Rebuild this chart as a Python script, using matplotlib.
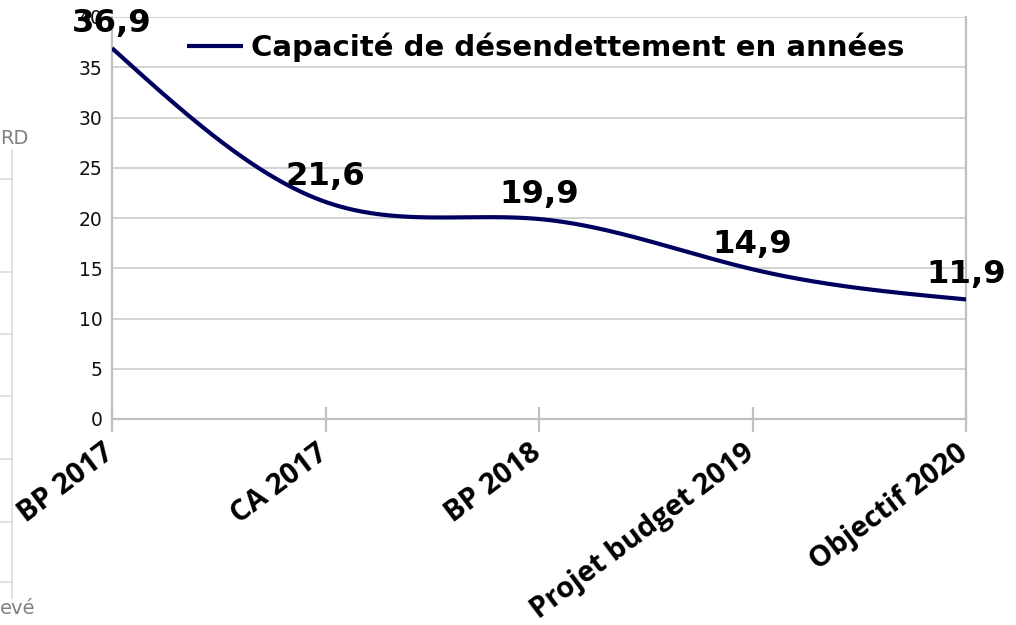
import numpy as np
import matplotlib
matplotlib.use("Agg")
import matplotlib.pyplot as plt
from matplotlib.lines import Line2D
from matplotlib.transforms import ScaledTranslation

categories = ["BP 2017", "CA 2017", "BP 2018", "Projet budget 2019", "Objectif 2020"]
values = [36.9, 21.6, 19.9, 14.9, 11.9]
series_name = "Capacité de désendettement en années"
y_ticks = [0, 5, 10, 15, 20, 25, 30, 35, 40]


def natural_spline(x, y, n=400):
    x = np.asarray(x, float)
    y = np.asarray(y, float)
    m = len(x)
    h = np.diff(x)
    A = np.zeros((m, m))
    r = np.zeros(m)
    A[0, 0] = 1
    A[-1, -1] = 1
    for i in range(1, m - 1):
        A[i, i - 1] = h[i - 1]
        A[i, i] = 2 * (h[i - 1] + h[i])
        A[i, i + 1] = h[i]
        r[i] = 3 * ((y[i + 1] - y[i]) / h[i] - (y[i] - y[i - 1]) / h[i - 1])
    c = np.linalg.solve(A, r)
    b = np.zeros(m - 1)
    d = np.zeros(m - 1)
    for i in range(m - 1):
        b[i] = (y[i + 1] - y[i]) / h[i] - h[i] * (2 * c[i] + c[i + 1]) / 3
        d[i] = (c[i + 1] - c[i]) / (3 * h[i])
    xs = np.linspace(x[0], x[-1], n)
    idx = np.clip(np.searchsorted(x, xs, side="right") - 1, 0, m - 2)
    dx = xs - x[idx]
    ys = y[idx] + b[idx] * dx + c[idx] * dx ** 2 + d[idx] * dx ** 3
    return xs, ys


W, H = 1016, 625
fig = plt.figure(figsize=(W / 100, H / 100), dpi=100)
fig.patch.set_facecolor("white")

L, R, T, B = 112, 966, 17, 419
ax = fig.add_axes([L / W, 1 - B / H, (R - L) / W, (B - T) / H])

xpos = np.arange(len(categories))
xs, ys = natural_spline(xpos, values)
navy = "#00005e"
ax.plot(xs, ys, color=navy, lw=3.0, solid_capstyle="butt", label=series_name, zorder=3)

ax.set_xlim(0, len(categories) - 1)
ax.set_ylim(0, 40)
ax.set_yticks(y_ticks)
ax.set_yticklabels([str(t) for t in y_ticks], fontsize=13.5, color="#111111",
                   family="DejaVu Sans")
ax.yaxis.grid(True, color="#d0d0d0", lw=1.3)
ax.set_axisbelow(True)
ax.tick_params(axis="y", length=0, pad=7)

ax.set_xticks(xpos)
ax.set_xticklabels(categories, rotation=37, ha="right", va="top",
                   rotation_mode="anchor", fontsize=21, fontweight="bold",
                   family="Open Sans", color="black")
ax.tick_params(axis="x", direction="inout", length=18, width=1.6,
               color="#c0c0c0", pad=5)
shift = ScaledTranslation(-10 / 100, 0, fig.dpi_scale_trans)
for lbl in ax.get_xticklabels():
    lbl.set_transform(lbl.get_transform() + shift)

for s in ["left", "bottom", "right", "top"]:
    ax.spines[s].set_color("#c0c0c0")
    ax.spines[s].set_linewidth(1.6)
ax.spines["top"].set_visible(False)

for xv, v in zip(xpos, values):
    ax.annotate(f"{v:.1f}".replace(".", ","), (xv, v), xytext=(0, 18),
                textcoords="offset points", ha="center", va="center",
                fontsize=23.3, fontweight="bold", family="DejaVu Sans",
                color="black", zorder=5, annotation_clip=False)

leg = ax.legend(loc="center left", bbox_to_anchor=((186 - L) / (R - L), (B - 47) / (B - T)),
                frameon=True, facecolor="white", edgecolor="none", framealpha=1,
                handlelength=1.92, handletextpad=0.27, borderpad=0.05, borderaxespad=0,
                prop={"family": "DejaVu Sans", "weight": "bold", "size": 21})
leg.get_frame().set_boxstyle("square", pad=0)

# faint remnants of the underlying screenshot on the left edge
fig.text(0, 1 - 139 / H, "RD", fontsize=14, color="#808080", va="center", ha="left")
fig.text(0, 1 - 609 / H, "evé", fontsize=14, color="#808080", va="center", ha="left")
fig.add_artist(Line2D([12 / W, 12 / W], [1 - 150 / H, 1 - 598 / H], color="#dcdcdc", lw=1.2))
for yy in [179, 272, 334, 396, 459, 522, 582]:
    fig.add_artist(Line2D([0, 12 / W], [1 - yy / H, 1 - yy / H], color="#dcdcdc", lw=1.2))

fig.savefig("out.png", dpi=100, facecolor="white")
